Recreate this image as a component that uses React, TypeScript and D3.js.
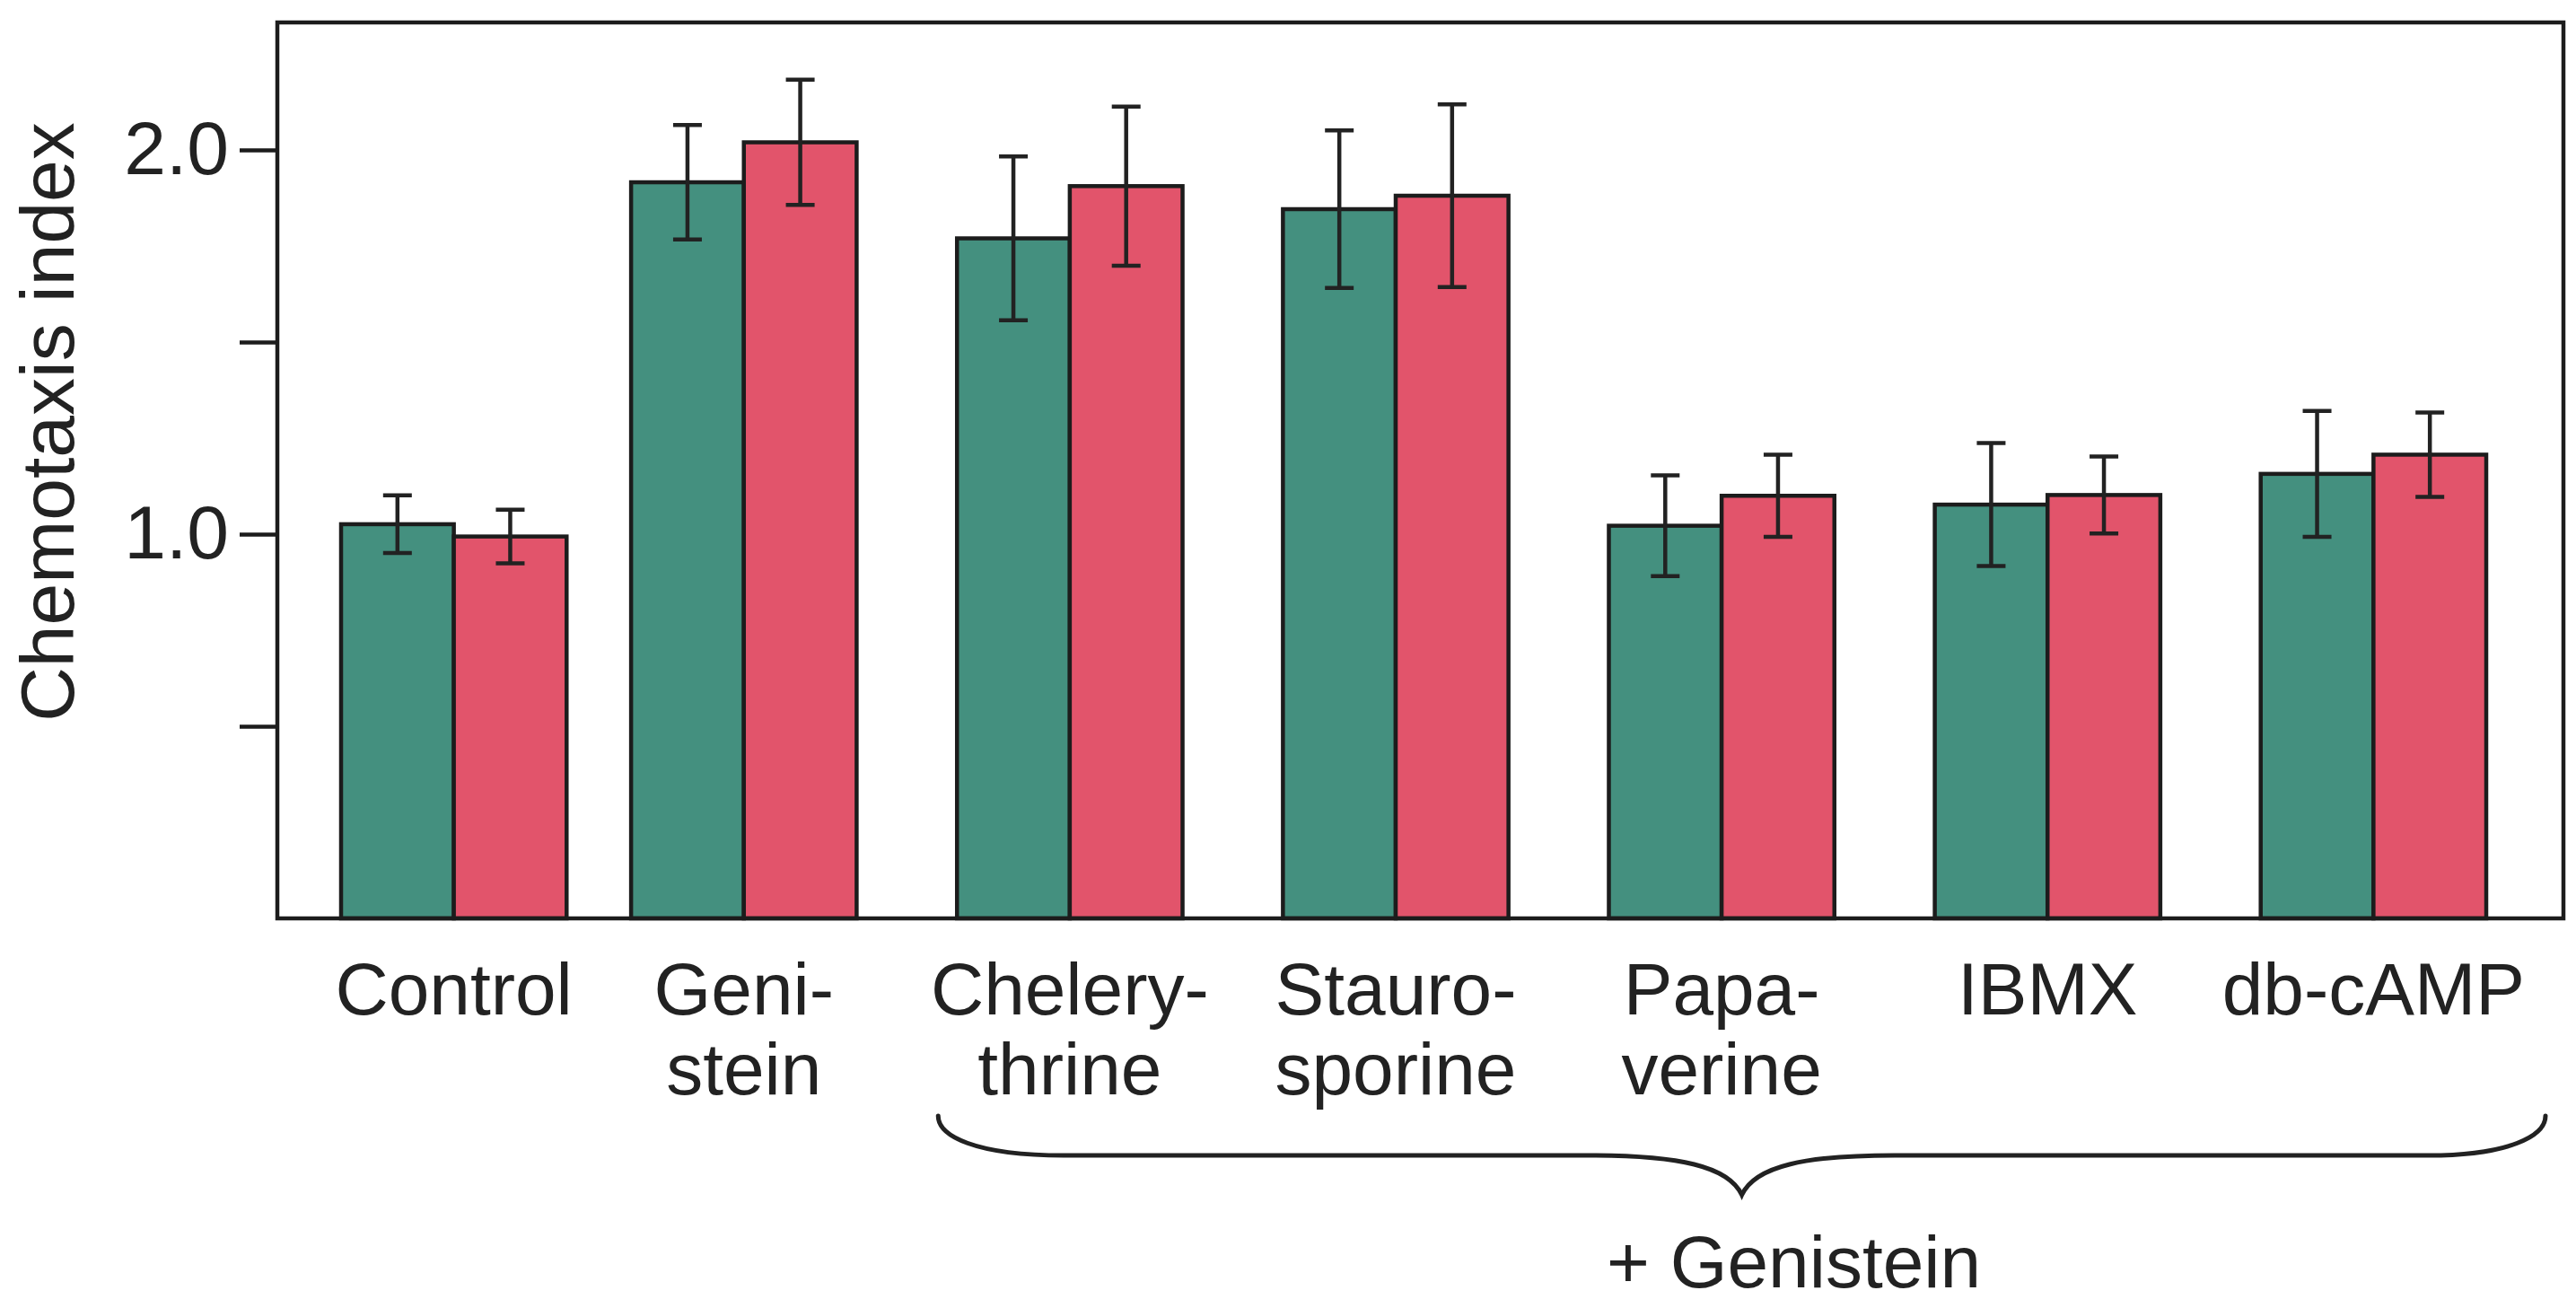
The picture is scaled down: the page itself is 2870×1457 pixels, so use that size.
import * as d3 from "d3";
import { useEffect, useRef } from "react";

const categories = [
  "Control",
  "Geni-|stein",
  "Chelery-|thrine",
  "Stauro-|sporine",
  "Papa-|verine",
  "IBMX",
  "db-cAMP",
];

const series = ["first", "second"];

// chemotaxis index means
const firstMeans = [1.026, 1.916, 1.77, 1.846, 1.022, 1.077, 1.157];
const secondMeans = [0.994, 2.02, 1.906, 1.881, 1.1, 1.102, 1.207];
// half-length of each error bar
const firstErrors = [0.075, 0.149, 0.213, 0.205, 0.131, 0.16, 0.164];
const secondErrors = [0.07, 0.163, 0.207, 0.238, 0.107, 0.1, 0.11];

const yTicks = [0.5, 1.0, 1.5, 2.0];
const yLabelled = [1.0, 2.0];

const COLORS = {
  first: "#44907f",
  second: "#e2546b",
  ink: "#1c1c1c",
};

const FONT = "'Liberation Sans', Arial, Helvetica, sans-serif";

const W = 2870;
const H = 1457;
const frame = { left: 309, top: 25, right: 2856, bottom: 1023 };

export default function App() {
  const axisRef = useRef<SVGGElement>(null);

  const y = d3
    .scaleLinear()
    .domain([0, 2.332])
    .range([frame.bottom, frame.top]);

  const xGroup = d3
    .scaleBand<string>()
    .domain(categories)
    .range([340, 2770])
    .paddingInner(0.308)
    .paddingOuter(0);

  const xSub = d3
    .scaleBand<string>()
    .domain(series)
    .range([0, xGroup.bandwidth()]);

  // the first group sits a little closer to its neighbour in the original
  const groupLeft = (c: string, i: number) => xGroup(c)! + (i === 0 ? 40 : 0);

  useEffect(() => {
    if (!axisRef.current) return;
    const g = d3.select(axisRef.current);
    g.selectAll("*").remove();
    const axis = d3
      .axisLeft(y)
      .tickValues(yTicks)
      .tickSize(42)
      .tickPadding(12)
      .tickFormat((d) =>
        yLabelled.includes(+d) ? d3.format(".1f")(+d) : ""
      );
    g.call(axis);
    g.select(".domain").remove();
    g.selectAll("line").attr("stroke", COLORS.ink).attr("stroke-width", 4.5);
    g.selectAll("text")
      .attr("fill", "#222")
      .attr("font-size", 84)
      .attr("font-family", FONT);
  }, []);

  const rows = categories.map((c, i) => [
    { key: "first", mean: firstMeans[i], err: firstErrors[i] },
    { key: "second", mean: secondMeans[i], err: secondErrors[i] },
  ]);

  // brace under the "+ Genistein" groups
  const bx0 = xGroup("Chelery-|thrine")! - 21;
  const bx1 = xGroup("db-cAMP")! + xGroup.bandwidth() + 66;
  const bmid = (bx0 + bx1) / 2;
  const bTop = 1243;
  const bLine = 1287;
  const bTip = 1331;
  const brace = d3.path();
  brace.moveTo(bx0, bTop);
  brace.bezierCurveTo(bx0, bLine - 22, bx0 + 40, bLine, bx0 + 140, bLine);
  brace.lineTo(bmid - 170, bLine);
  brace.bezierCurveTo(bmid - 70, bLine, bmid - 15, bLine + 12, bmid, bTip);
  brace.bezierCurveTo(bmid + 15, bLine + 12, bmid + 70, bLine, bmid + 170, bLine);
  brace.lineTo(bx1 - 130, bLine);
  brace.bezierCurveTo(bx1 - 40, bLine, bx1, bLine - 22, bx1, bTop);

  return (
    <svg
      width={W}
      height={H}
      viewBox={`0 0 ${W} ${H}`}
      style={{ position: "absolute", left: 0, top: 0, display: "block", background: "#fff" }}
    >
      <rect x={0} y={0} width={W} height={H} fill="#fff" />

      {rows.map((row, i) =>
        row.map((b) => {
          const x0 = groupLeft(categories[i], i) + xSub(b.key)!;
          const bw = xSub.bandwidth();
          return (
            <rect
              key={`${i}-${b.key}`}
              x={x0}
              y={y(b.mean)}
              width={bw}
              height={y(0) - y(b.mean)}
              fill={COLORS[b.key as "first" | "second"]}
              stroke={COLORS.ink}
              strokeWidth={4.5}
            />
          );
        })
      )}

      {rows.map((row, i) =>
        row.map((b) => {
          const cx = groupLeft(categories[i], i) + xSub(b.key)! + xSub.bandwidth() / 2;
          const yHi = y(b.mean + b.err);
          const yLo = y(b.mean - b.err);
          return (
            <g key={`e-${i}-${b.key}`} stroke="#222" strokeWidth={4.5}>
              <line x1={cx} x2={cx} y1={yHi} y2={yLo} />
              <line x1={cx - 16} x2={cx + 16} y1={yHi} y2={yHi} />
              <line x1={cx - 16} x2={cx + 16} y1={yLo} y2={yLo} />
            </g>
          );
        })
      )}

      <rect
        x={frame.left}
        y={frame.top}
        width={frame.right - frame.left}
        height={frame.bottom - frame.top}
        fill="none"
        stroke={COLORS.ink}
        strokeWidth={4.5}
      />

      <g ref={axisRef} transform={`translate(${frame.left},0)`} />

      <text
        transform={`translate(82,${470}) rotate(-90)`}
        textAnchor="middle"
        fontFamily={FONT}
        fontSize={84}
        fill="#222"
      >
        Chemotaxis index
      </text>

      {categories.map((c, i) => {
        const cx = groupLeft(c, i) + xGroup.bandwidth() / 2;
        const lines = c.split("|");
        return (
          <text
            key={c}
            textAnchor="middle"
            fontFamily={FONT}
            fontSize={82}
            fill="#222"
          >
            {lines.map((t, j) => (
              <tspan key={j} x={cx} y={1130 + j * 89}>
                {t}
              </tspan>
            ))}
          </text>
        );
      })}

      <path
        d={brace.toString()}
        fill="none"
        stroke="#222"
        strokeWidth={5}
        strokeLinecap="round"
      />

      <text
        x={bmid + 58}
        y={1434}
        textAnchor="middle"
        fontFamily={FONT}
        fontSize={82}
        fill="#222"
      >
        + Genistein
      </text>
    </svg>
  );
}
